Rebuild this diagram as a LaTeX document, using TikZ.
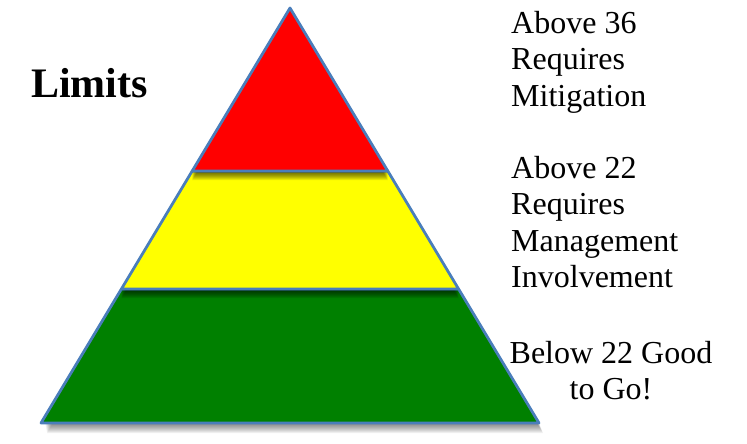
\documentclass[tikz,border=0pt]{standalone}
\usepackage{fontspec}
\setmainfont{Liberation Serif}
\begin{document}
\begin{tikzpicture}[x=1pt,y=-1pt,
  layer/.style={draw=edgeblue,line width=2.8pt,line join=round},
  lbl/.style={inner sep=0pt,font=\fontsize{32}{36.5}\selectfont},
  shadowstep/.style={fill=black,fill opacity=0.07,draw=none}]
\definecolor{edgeblue}{HTML}{4A7EBB}
\definecolor{pyrred}{HTML}{FF0000}
\definecolor{pyryellow}{HTML}{FFFF00}
\definecolor{pyrgreen}{HTML}{008000}
\useasboundingbox (0,0) rectangle (747,444);
% corner coordinates
\coordinate (apex) at (290,8);
\coordinate (rl) at (192.2,171);
\coordinate (rr) at (387.8,171);
\coordinate (yl) at (121.4,289);
\coordinate (yr) at (458.6,289);
\coordinate (gl) at (41,423);
\coordinate (gr) at (539,423);
% green layer shadow
\foreach \d in {1,2,...,10}{
  \fill[shadowstep,fill opacity=0.06] ([xshift=2,yshift=-\d]yl) -- ([xshift=2,yshift=-\d]yr) -- ([xshift=\d*0.4,yshift=-\d]gr) -- ([xshift=4+\d*0.2,yshift=-\d]gl) -- cycle;
}
\fill[pyrgreen] (yl) -- (yr) -- (gr) -- (gl) -- cycle;
\draw[layer] (yl) -- (yr) -- (gr) -- (gl) -- cycle;
% yellow layer shadow on green
\begin{scope}
\clip (yl) -- (yr) -- (gr) -- (gl) -- cycle;
\foreach \d in {1,2,...,9}{
  \fill[shadowstep,fill opacity=0.09] ([yshift=-\d]rl) -- ([yshift=-\d]rr) -- ([yshift=-\d]yr) -- ([yshift=-\d]yl) -- cycle;
}
\end{scope}
\fill[pyryellow] (rl) -- (rr) -- (yr) -- (yl) -- cycle;
\draw[layer] (rl) -- (rr) -- (yr) -- (yl) -- cycle;
% red layer shadow on yellow
\begin{scope}
\clip (rl) -- (rr) -- (yr) -- (yl) -- cycle;
\foreach \d in {1,2,...,9}{
  \fill[shadowstep,fill opacity=0.09] ([yshift=-\d]apex) -- ([yshift=-\d]rr) -- ([yshift=-\d]rl) -- cycle;
}
\end{scope}
\fill[pyrred] (apex) -- (rr) -- (rl) -- cycle;
\draw[layer] (apex) -- (rr) -- (rl) -- cycle;
% texts
\node[anchor=base west,inner sep=0pt,font=\fontsize{42}{46}\selectfont\bfseries] (limits) at (31,97) {Limits};
\node[lbl,anchor=north west,align=left] (top) at (511,11) {Above 36\\Requires\\Mitigation};
\node[lbl,anchor=north west,align=left] (mid) at (511,156) {Above 22\\Requires\\Management\\Involvement};
\node[lbl,anchor=north,align=center] (bot) at (611,341) {Below 22 Good\\to Go!};
\end{tikzpicture}
\end{document}
